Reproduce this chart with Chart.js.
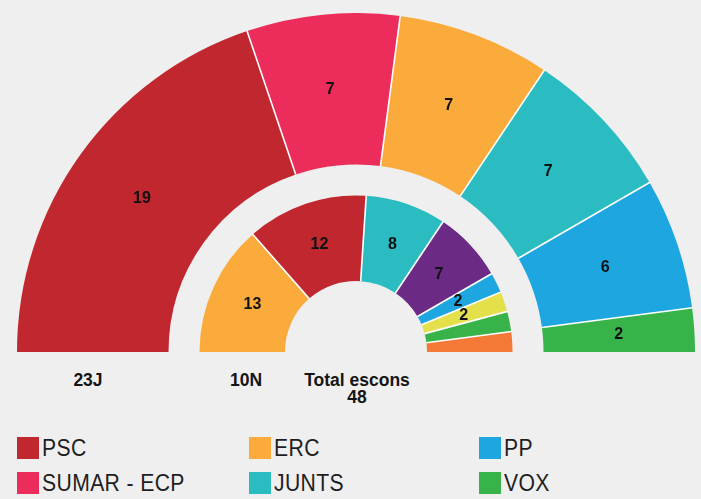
<!DOCTYPE html>
<html>
<head>
<meta charset="utf-8">
<script src="https://cdn.jsdelivr.net/npm/chart.js@4/dist/chart.umd.min.js"></script>
<style>
  html, body { margin:0; padding:0; background:#efefef; width:701px; height:499px; overflow:hidden; }
  #wrap { position:absolute; left:17px; top:13px; width:678px; height:339px; }
  .lbl { position:absolute; font-family:"Liberation Sans", Arial, sans-serif; font-weight:bold; color:#151515; text-align:center; font-size:17.5px; line-height:17px; }
  .leg { position:absolute; font-family:"Liberation Sans", Arial, sans-serif; font-size:23px; color:#1e1e1e; line-height:22px; white-space:nowrap; }
  .leg span.sw { position:absolute; left:0; top:0; width:22px; height:22px; }
  .leg span.tx { position:absolute; left:25px; top:0px; letter-spacing:0.4px; transform:scaleX(0.92); transform-origin:0 0; }
</style>
</head>
<body>
<div id="wrap"><canvas id="c" width="678" height="339"></canvas></div>
<div class="lbl" style="left:58px; top:372px; width:60px;">23J</div>
<div class="lbl" style="left:216px; top:372px; width:60px;">10N</div>
<div class="lbl" style="left:277px; top:372px; width:160px;">Total escons<br>48</div>
<div id="legend"></div>
<script>
// ---- data ----
const outerParties = ['PSC', 'SUMAR - ECP', 'ERC', 'JUNTS', 'PP', 'VOX'];
const outerSeats   = [19, 7, 7, 7, 6, 2];
const innerParties = ['ERC', 'PSC', 'JUNTS', 'ECP', 'PP', 'CUP', 'VOX', 'Cs'];
const innerSeats   = [13, 12, 8, 7, 2, 2, 2, 2];
const innerLabelShown = [true, true, true, true, true, true, false, false];
const totalSeats = 48;
const legendParties = ['PSC', 'SUMAR - ECP', 'ERC', 'JUNTS', 'PP', 'VOX'];

const partyColors = {
  'PSC': '#c0272f',
  'SUMAR - ECP': '#ec2d5c',
  'ERC': '#fbab3c',
  'JUNTS': '#2bbcc2',
  'PP': '#1ea6e0',
  'VOX': '#37b34a',
  'ECP': '#6b2a84',
  'CUP': '#e3e04c',
  'Cs': '#f47836'
};

// ---- legend (HTML) ----
const legendPos = [[17,437],[17,472],[249,437],[249,472],[479,437],[479,472]];
const legEl = document.getElementById('legend');
legendParties.forEach((p, i) => {
  const d = document.createElement('div');
  d.className = 'leg';
  d.style.left = legendPos[i][0] + 'px';
  d.style.top = legendPos[i][1] + 'px';
  d.innerHTML = '<span class="sw" style="background:' + partyColors[p] + '"></span><span class="tx">' + p + '</span>';
  legEl.appendChild(d);
});

// ---- plugins ----
const separators = {
  id: 'separators',
  afterDatasetsDraw(chart) {
    const ctx = chart.ctx;
    ctx.save();
    ctx.strokeStyle = '#ffffff';
    ctx.lineWidth = 1.6;
    chart.data.datasets.forEach((ds, di) => {
      if (ds.isGap) return;
      const meta = chart.getDatasetMeta(di);
      meta.data.forEach((arc, i) => {
        if (i === 0) return;
        const p = arc.getProps(['x','y','startAngle','innerRadius','outerRadius']);
        const a = p.startAngle;
        ctx.beginPath();
        ctx.moveTo(p.x + Math.cos(a) * p.innerRadius, p.y + Math.sin(a) * p.innerRadius);
        ctx.lineTo(p.x + Math.cos(a) * (p.outerRadius + 0.5), p.y + Math.sin(a) * (p.outerRadius + 0.5));
        ctx.stroke();
      });
    });
    ctx.restore();
  }
};

const valueLabels = {
  id: 'valueLabels',
  afterDatasetsDraw(chart) {
    const ctx = chart.ctx;
    ctx.save();
    ctx.font = 'bold 16px "Liberation Sans", Arial, sans-serif';
    ctx.fillStyle = '#111111';
    ctx.textAlign = 'center';
    ctx.textBaseline = 'middle';
    chart.data.datasets.forEach((ds, di) => {
      if (ds.isGap) return;
      const meta = chart.getDatasetMeta(di);
      meta.data.forEach((arc, i) => {
        if (ds.showLabel && !ds.showLabel[i]) return;
        const pos = arc.tooltipPosition();
        ctx.fillText(String(ds.data[i]), pos.x, pos.y);
      });
    });
    ctx.restore();
  }
};

new Chart(document.getElementById('c'), {
  type: 'doughnut',
  data: {
    labels: outerParties,
    datasets: [
      {
        label: '23J',
        data: outerSeats,
        backgroundColor: outerParties.map(p => partyColors[p]),
        borderWidth: 0,
        weight: 151.5
      },
      {
        label: 'gap',
        isGap: true,
        data: [totalSeats],
        backgroundColor: 'rgba(0,0,0,0)',
        borderWidth: 0,
        weight: 31
      },
      {
        label: '10N',
        data: innerSeats,
        showLabel: innerLabelShown,
        backgroundColor: innerParties.map(p => partyColors[p]),
        borderWidth: 0,
        weight: 85.5
      }
    ]
  },
  options: {
    responsive: false,
    animation: false,
    devicePixelRatio: 1,
    rotation: -90,
    circumference: 180,
    cutout: '20.944%',
    layout: { padding: 0 },
    plugins: {
      legend: { display: false },
      tooltip: { enabled: false }
    }
  },
  plugins: [separators, valueLabels]
});
</script>
</body>
</html>
